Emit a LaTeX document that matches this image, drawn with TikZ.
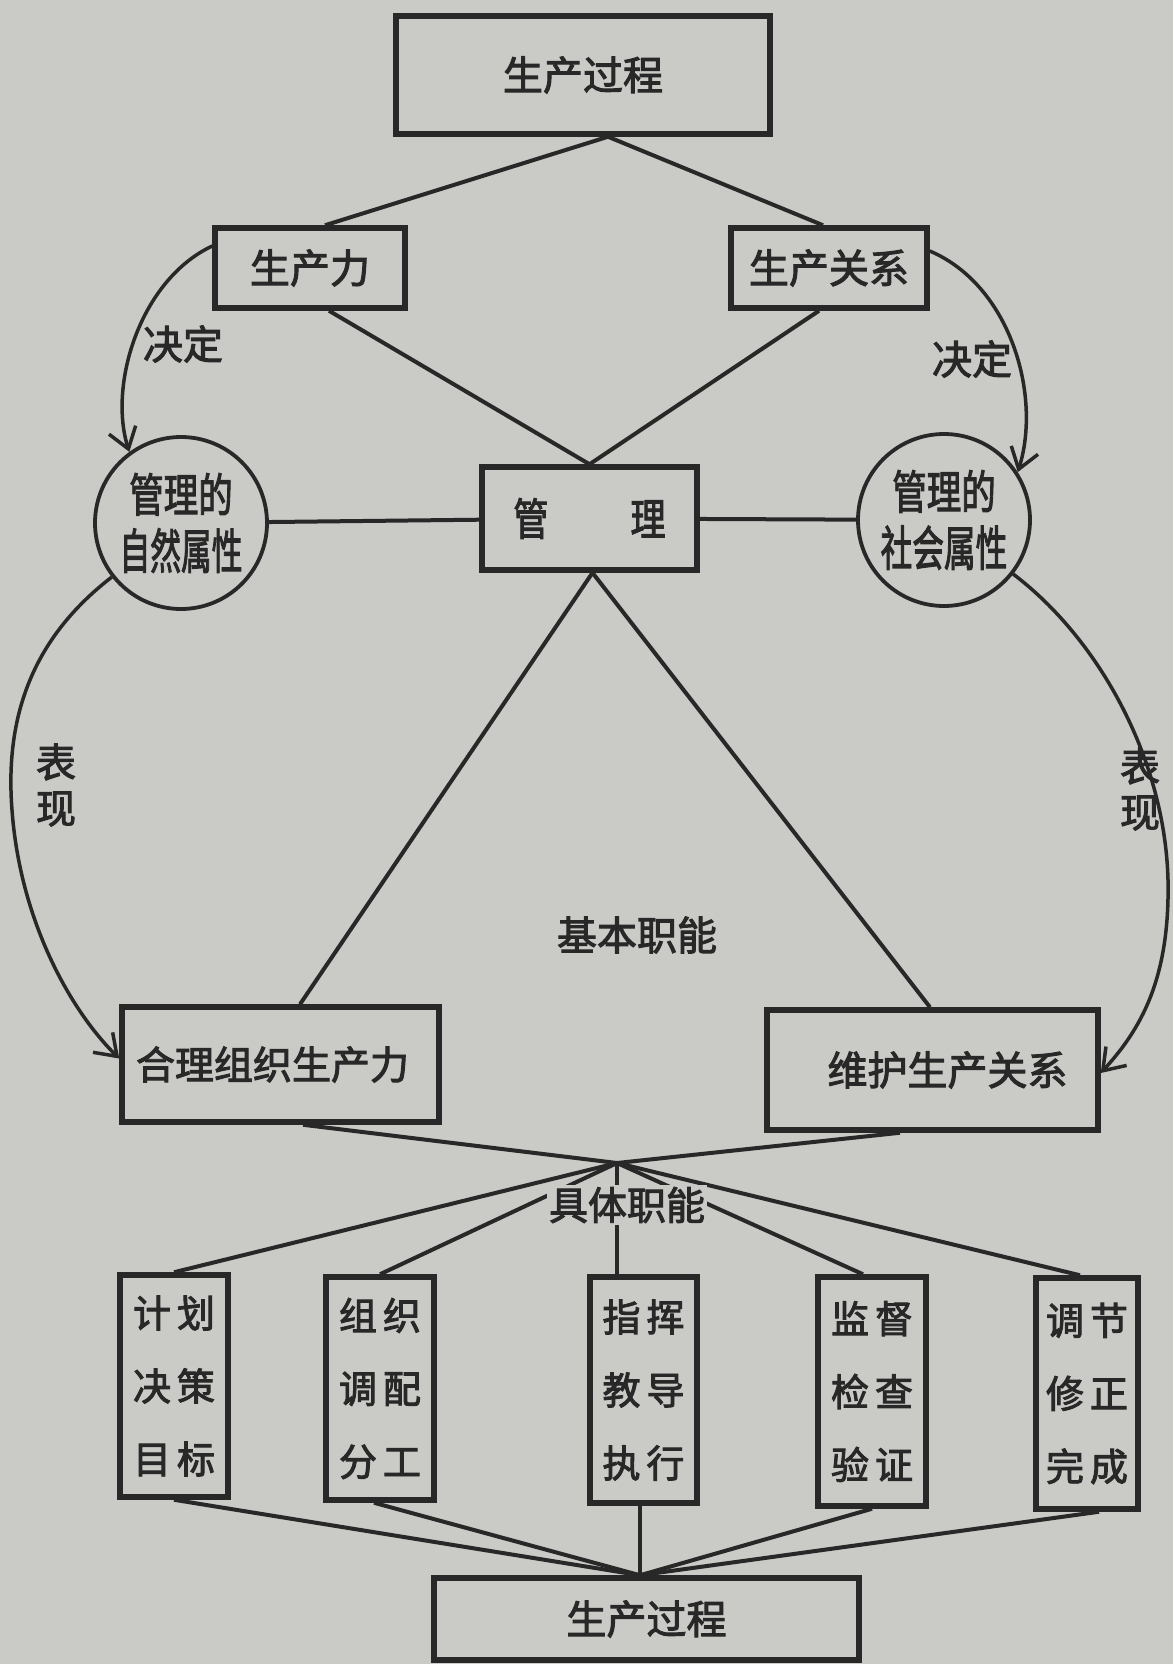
\documentclass[tikz,border=0pt]{standalone}
\usepackage{fontspec}
\usepackage{graphicx}
\newfontfamily\cjk[FakeBold=2.5]{Noto Sans CJK SC}
\usetikzlibrary{arrows.meta}
\definecolor{paper}{RGB}{202,202,199}
\definecolor{ink}{RGB}{40,40,40}
\tikzset{
  box/.style={draw=ink, line width=5.5pt, inner sep=0pt, text=ink, font=\cjk\fontsize{40}{48}\selectfont},
  vbox/.style={box, align=center, font=\cjk\fontsize{38}{73}\selectfont},
  circ/.style={circle, draw=ink, line width=3.8pt, minimum size=172pt, inner sep=0pt, align=center, text=ink, font=\cjk\fontsize{46}{57}\selectfont},
  conn/.style={draw=ink, line width=4pt},
  arr/.style={draw=ink, line width=3.5pt, -{Straight Barb[length=20pt,width=28pt]}},
  lbl/.style={text=ink, inner sep=0pt, font=\cjk\fontsize{40}{46}\selectfont},
}
\begin{document}
\begin{tikzpicture}[x=1pt, y=-1pt]
\fill[paper] (0,0) rectangle (1173,1664);
\useasboundingbox (0,0) rectangle (1173,1664);

% boxes
\node[box, minimum width=374pt, minimum height=118pt] (top) at (583,75) {生产过程};
\node[box, minimum width=190pt, minimum height=80pt] (pf) at (310,268) {生产力};
\node[box, minimum width=196pt, minimum height=80pt] (pr) at (829,268) {生产关系};
\node[circ] (nat) at (181,523) {\scalebox{0.75}[1]{管理的}\\\scalebox{0.64}[1]{\fontsize{48}{57}\selectfont 自然属性}};
\node[circ] (soc) at (944,520) {\scalebox{0.75}[1]{管理的}\\\scalebox{0.66}[1]{\fontsize{48}{57}\selectfont 社会属性}};
\node[box, minimum width=215pt, minimum height=103pt, font=\cjk\fontsize{44}{50}\selectfont] (mg) at (589.5,518.5) {\scalebox{0.8}[1]{管}\hspace{82pt}\scalebox{0.8}[1]{理}};
\node[box, minimum width=317pt, minimum height=115pt, font=\cjk\fontsize{39}{46}\selectfont] (hl) at (280.5,1064.5) {合理组织生产力\hspace*{16pt}};
\node[box, minimum width=331pt, minimum height=120pt] (wh) at (932.5,1070) {\hspace*{30pt}维护生产关系};
\node[vbox, minimum width=108pt, minimum height=222pt] (b1) at (174,1386) {计\hspace{6pt}划\\决\hspace{6pt}策\\目\hspace{6pt}标};
\node[vbox, minimum width=108pt, minimum height=223pt] (b2) at (380,1388.5) {组\hspace{6pt}织\\调\hspace{6pt}配\\分\hspace{6pt}工};
\node[vbox, minimum width=107pt, minimum height=226pt] (b3) at (643.5,1390) {指\hspace{6pt}挥\\教\hspace{6pt}导\\执\hspace{6pt}行};
\node[vbox, minimum width=108pt, minimum height=229pt] (b4) at (872,1391.5) {监\hspace{6pt}督\\检\hspace{6pt}查\\验\hspace{6pt}证};
\node[vbox, minimum width=102pt, minimum height=231pt] (b5) at (1087,1393.5) {调\hspace{6pt}节\\修\hspace{6pt}正\\完\hspace{6pt}成};
\node[box, minimum width=425pt, minimum height=82pt] (pb) at (646.5,1619) {生产过程};

% junction points
\coordinate (tA) at ([xshift=25pt]top.south);
\coordinate (j) at (617,1163);
\coordinate (bt) at ([xshift=-6.5pt]pb.north);

% upper connectors
\draw[conn] ([xshift=15pt]pf.north) -- (tA) -- ([xshift=-6pt]pr.north);
\draw[conn] ([xshift=19pt]pf.south) -- (mg.north) -- ([xshift=-10pt]pr.south);
\draw[conn] (nat) -- (mg);
\draw[conn] (mg) -- (soc);
\draw[conn] ([xshift=19.5pt]hl.north) -- ([xshift=3pt]mg.south) -- ([xshift=-2.5pt]wh.north);

% lower connectors
\draw[conn] ([xshift=22.5pt]hl.south) -- (j) -- ([xshift=-32.5pt]wh.south);
\draw[conn] (j) -- (b1.north);
\draw[conn] (j) -- (b2.north);
\draw[conn] (j) -- (j |- b3.north);
\draw[conn] (j) -- ([xshift=-9pt]b4.north);
\draw[conn] (j) -- ([xshift=-7pt]b5.north);
\draw[conn] (b1.south) -- (bt);
\draw[conn] ([xshift=-6pt]b2.south) -- (bt);
\draw[conn] (bt |- b3.south) -- (bt);
\draw[conn] (b4.south) -- (bt);
\draw[conn] ([xshift=12pt]b5.south) -- (bt);

% curved arrows
\draw[arr] ([yshift=22pt]pf.west) .. controls (140,280) and (108,385) .. (nat.126);
\draw[arr] ([yshift=17pt]pr.east) .. controls (1010,285) and (1042,395) .. (soc.33);
\draw[arr] (nat.218) .. controls (30,640) and (5,720) .. (12,810)
           .. controls (20,920) and (70,1010) .. ([yshift=6pt]hl.west);
\draw[arr] (soc.322) .. controls (1100,640) and (1165,760) .. (1168,880)
           .. controls (1170,980) and (1140,1030) .. ([yshift=-3pt]wh.east);

% labels
\node[lbl] (d1) at (183,344) {决定};
\node[lbl] (d2) at (972,359) {决定};
\node[lbl, align=center] (e1) at (56,785) {表\\现};
\node[lbl, align=center] (e2) at (1140,789) {表\\现};
\node[lbl] (jb) at (637,935) {基本职能};
\node[lbl, fill=paper, inner sep=2pt, font=\cjk\fontsize{39}{46}\selectfont] (jt) at (627,1205) {具体职能};
\end{tikzpicture}
\end{document}
